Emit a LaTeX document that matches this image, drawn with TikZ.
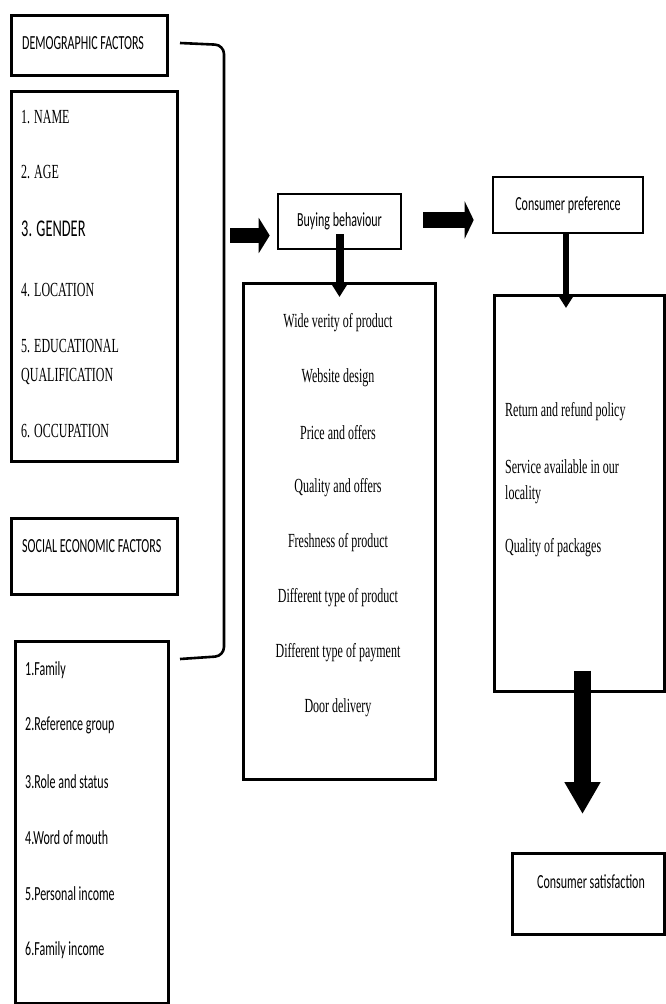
\documentclass[tikz,border=0pt]{standalone}
\usepackage{fontspec}
\setmainfont[FakeStretch=0.6]{Liberation Serif}
\setsansfont[FakeStretch=0.6]{Carlito}
\usetikzlibrary{arrows.meta}
\tikzset{
  frame/.style={draw, line width=2.6pt, inner sep=0pt, anchor=north west},
  seriftext/.style={font=\fontsize{20}{24}\selectfont, inner sep=0pt},
  sanstext/.style={font=\sffamily\fontsize{20}{24}\selectfont, inner sep=0pt},
}
\begin{document}
\begin{tikzpicture}[x=1pt, y=-1pt]
      \useasboundingbox (0,0) rectangle (665,1004);
      % left column
      \node[frame, minimum width=156pt, minimum height=60pt] (demohead) at (10,14) {};
      \path (22,43) node[sanstext, anchor=west] (demotitle) {DEMOGRAPHIC FACTORS};
      \node[frame, minimum width=166pt, minimum height=370pt] (demolist) at (10,90) {};
      \path (21,117) node[seriftext, anchor=west] (dname) {1. NAME};
      \path (21,172) node[seriftext, anchor=west] (dage) {2. AGE};
      \path (21,229) node[sanstext, anchor=west, font=\sffamily\fontsize{24}{28}\selectfont] (dgender) {3. GENDER};
      \path (21,290) node[seriftext, anchor=west] (dloc) {4. LOCATION};
      \path (21,346) node[seriftext, anchor=west] (dedu) {5. EDUCATIONAL};
      \path (21,376) node[seriftext, anchor=west] (dqual) {QUALIFICATION};
      \path (21,431) node[seriftext, anchor=west] (docc) {6. OCCUPATION};
      \node[frame, minimum width=166pt, minimum height=76pt] (sochead) at (10,517) {};
      \path (22,546) node[sanstext, anchor=west] (soctitle) {SOCIAL ECONOMIC FACTORS};
      \node[frame, minimum width=153pt, minimum height=362pt] (soclist) at (14,640) {};
      \path (25,670) node[sanstext, anchor=west] (sfam) {1.Family};
      \path (25,725) node[sanstext, anchor=west] (sref) {2.Reference group};
      \path (25,782) node[sanstext, anchor=west] (srole) {3.Role and status};
      \path (25,838) node[sanstext, anchor=west] (sword) {4.Word of mouth};
      \path (25,894) node[sanstext, anchor=west] (spers) {5.Personal income};
      \path (25,950) node[sanstext, anchor=west] (sfinc) {6.Family income};
      % bracket
      \draw[line width=2.6pt, rounded corners=9pt] (180,43) -- (224,45) -- (224,656) -- (180,659);
      \coordinate (brk) at (230,235.5);
      \coordinate (midarrow) at (423,220);
      % middle column
      \node[frame, minimum width=123pt, minimum height=55pt, anchor=center, sanstext] (buying) at (339.5,221.5) {Buying behaviour};
      \node[frame, minimum width=192pt, minimum height=496pt] (buylist) at (242,282) {};
      \path (338,323) node[seriftext] (bwide) {Wide verity of product};
      \path (338,378) node[seriftext] (bweb) {Website design};
      \path (338,433) node[seriftext] (bprice) {Price and offers};
      \path (338,488) node[seriftext] (bqual) {Quality and offers};
      \path (338,543) node[seriftext] (bfresh) {Freshness of product};
      \path (338,598) node[seriftext] (bprod) {Different type of product};
      \path (338,653) node[seriftext] (bpay) {Different type of payment};
      \path (338,708) node[seriftext] (bdoor) {Door delivery};
      % right column
      \node[frame, minimum width=150pt, minimum height=56pt, anchor=center, sanstext] (pref) at (568,205) {Consumer preference};
      \node[frame, minimum width=170pt, minimum height=396pt] (preflist) at (493,294) {};
      \path (505,412) node[seriftext, anchor=west] (preturn) {Return and refund policy};
      \path (505,467) node[seriftext, anchor=west] (pserv) {Service available in our};
      \path (505,495) node[seriftext, anchor=west] (ploc) {locality};
      \path (505,548) node[seriftext, anchor=west] (ppack) {Quality of packages};
      \node[frame, minimum width=152pt, minimum height=81pt] (satis) at (511,852) {};
      \path (591,882) node[sanstext] (satistext) {Consumer satisfaction};
      % block arrows
      \draw[line width=15pt, -{Triangle[length=11pt, width=35pt]}] (brk) -- ([xshift=-7pt]brk -| buying.west);
      \draw[line width=16pt, -{Triangle[length=9pt, width=37pt]}] (midarrow) -- ([xshift=-18pt]midarrow -| pref.west);
      \draw[line width=8pt, -{Triangle[length=12pt, width=14pt]}] ([yshift=16pt]buying.south) -- ([yshift=-15pt]buylist.north -| buying.south);
      \draw[line width=6pt, -{Triangle[length=11pt, width=13pt]}] (pref.south -| 566,0) -- ([yshift=-14pt]preflist.north -| 566,0);
      \draw[line width=17pt, -{Triangle[length=32pt, width=34pt]}] ([yshift=22pt]preflist.south -| 582.5,0) -- ([yshift=38pt]satis.north -| 582.5,0);
\end{tikzpicture}
\end{document}
